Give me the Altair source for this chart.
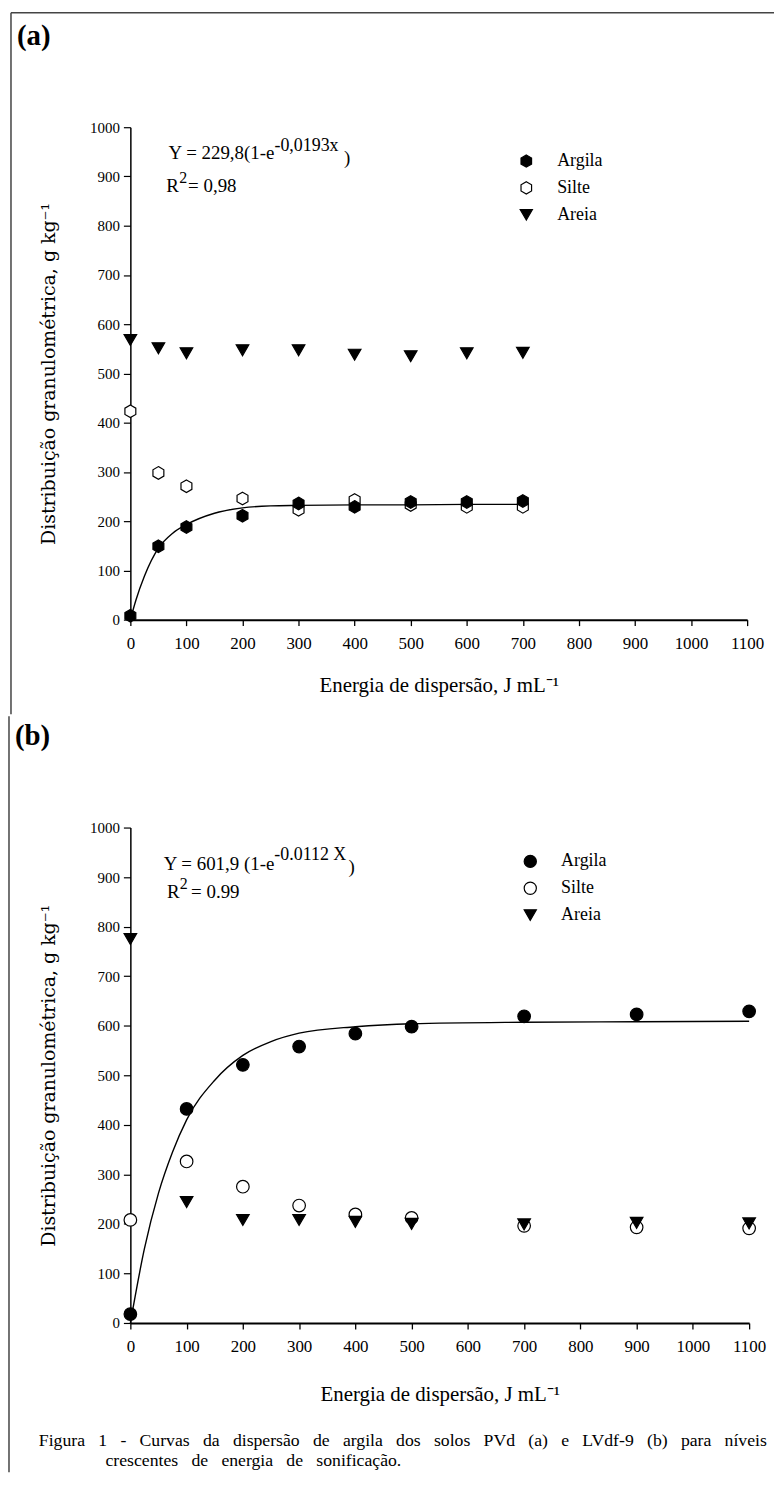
import altair as alt
import pandas as pd

SERIES = ["Argila", "Silte", "Areia"]

# ---- panel (a) ----
A_X = [0, 50, 100, 200, 300, 400, 500, 600, 700]
A_ARGILA = [8, 149, 188, 211, 236, 229, 239, 239, 241]
A_SILTE = [423, 298, 271, 246, 223, 243, 233, 229, 229]
A_AREIA = [568, 551, 541, 547, 547, 538, 535, 541, 542]
A_CURVE_X = [0, 10, 25, 50, 75, 100, 150, 200, 250, 300, 400, 500, 600, 700]
A_CURVE_Y = [0, 40, 88, 145, 175, 193, 216, 227, 231, 232, 233, 233, 234, 234]
A_EQ = ["Y = 229,8(1-e", "-0,0193x", ")"]
A_R2 = ["R", "2", "= 0,98"]

# ---- panel (b) ----
B_X = [0, 100, 200, 300, 400, 500, 700, 900, 1100]
B_ARGILA = [18, 432, 521, 558, 584, 598, 619, 623, 629]
B_SILTE = [208, 326, 275, 237, 219, 212, 196, 193, 191]
B_AREIA = [775, 244, 208, 208, 204, 200, 199, 202, 201]
B_CURVE_X = [0, 25, 50, 75, 100, 150, 200, 250, 300, 400, 500, 700, 900, 1100]
B_CURVE_Y = [0, 150, 262, 345, 410, 490, 540, 568, 585, 598, 604, 607, 608, 609]
B_EQ = ["Y = 601,9 (1-e", "-0.0112 X", ")"]
B_R2 = ["R", "2", "= 0.99"]

X_TICKS = list(range(0, 1101, 100))
Y_TICKS = list(range(0, 1001, 100))
Y_TITLE = "Distribuição granulométrica, g kg⁻¹"
X_TITLE_A = "Energia de dispersão, J mL⁻¹"
X_TITLE_B = "Energia de dispersão,  J mL⁻¹"
PANEL_LABELS = ["(a)", "(b)"]
CAPTION = [
    "Figura 1 - Curvas da dispersão de argila dos solos PVd (a) e LVdf-9 (b) para níveis",
    "crescentes de energia de sonificação.",
]

HEX = "M0,-1L0.866,-0.5L0.866,0.5L0,1L-0.866,0.5L-0.866,-0.5Z"
SERIF = "Liberation Serif"


def spaced(s):
    return s.replace(" ", " \u00a0\u00a0")


def panel(xs, argila, silte, areia, cx, cy, eq, r2, shapes, label, xtitle,
          width, height, left, top, bottom, title_y,
          eq_pos, r2_pos, legend_x, extra_layers):
    pts = pd.DataFrame(
        {"x": xs * 3,
         "y": silte + areia + argila,
         "serie": ["Silte"] * len(xs) + ["Areia"] * len(xs) + ["Argila"] * len(xs)}
    )
    curve = pd.DataFrame({"x": cx, "y": cy})

    xscale = alt.Scale(domain=[0, 1100], nice=False, zero=False)
    yscale = alt.Scale(domain=[0, 1000], nice=False)
    xaxis = alt.Axis(values=X_TICKS, title=xtitle, format="d", titleY=title_y)
    yaxis = alt.Axis(values=Y_TICKS, title=Y_TITLE, format="d", titleX=-82)
    X = alt.X("x:Q", scale=xscale, axis=xaxis)
    Y = alt.Y("y:Q", scale=yscale, axis=yaxis)

    line = alt.Chart(curve).mark_line(color="black", strokeWidth=1.4,
                                      interpolate="monotone").encode(x=X, y=Y)

    leg = alt.Legend(orient="none", legendX=legend_x, legendY=25, title=None,
                     labelFont=SERIF, labelFontSize=18, labelColor="black",
                     symbolSize=150, symbolStrokeColor="black", symbolStrokeWidth=1.2,
                     labelOffset=22, rowPadding=9)
    points = alt.Chart(pts).mark_point(filled=True, opacity=1, size=160,
                                       strokeWidth=1.2).encode(
        x=X, y=Y,
        shape=alt.Shape("serie:N", scale=alt.Scale(domain=SERIES, range=shapes), legend=leg),
        fill=alt.Fill("serie:N", scale=alt.Scale(domain=SERIES, range=["black", "white", "black"]),
                      legend=leg),
        stroke=alt.Stroke("serie:N", scale=alt.Scale(domain=SERIES, range=["black", "black", "black"]),
                          legend=leg),
    )

    layers = [line, points]

    def txt(s, xv, yv, size, align="left"):
        return alt.Chart(pd.DataFrame({"t": [s]})).mark_text(
            font=SERIF, fontSize=size, align=align, baseline="middle", color="black"
        ).encode(x=alt.X(datum=xv, type="quantitative", scale=xscale, axis=xaxis),
                 y=alt.Y(datum=yv, type="quantitative", scale=yscale, axis=yaxis),
                 text="t:N")

    (ex0, ey0), (ex1, ey1), (ex2, ey2) = eq_pos
    layers += [txt(eq[0], ex1, ey0, 19, "right"), txt(eq[1], ex1, ey1, 18),
               txt(eq[2], ex2, ey2, 19)]
    (rx0, ry0), (rx1, ry1), (rx2, ry2) = r2_pos
    layers += [txt(r2[0], rx0, ry0, 19), txt(r2[1], rx1, ry1, 16), txt(r2[2], rx2, ry2, 19)]

    # panel label
    lab = alt.Chart(pd.DataFrame({"t": [label]})).mark_text(
        font=SERIF, fontSize=29, fontWeight="bold", align="left", baseline="middle",
        color="black").encode(x=alt.value(-left + 6), y=alt.value(-92), text="t:N")
    layers.append(lab)

    # frame (left edge of figure box)
    layers.append(alt.Chart(pd.DataFrame({"t": [0]})).mark_rule(
        color="#444", strokeWidth=1.5).encode(
        x=alt.value(-left), x2=alt.value(-left), y=alt.value(-top), y2=alt.value(bottom)))
    layers += extra_layers

    return alt.layer(*layers).properties(width=width, height=height).resolve_scale(
        shape="independent", fill="independent", stroke="independent")


# top edge of figure box
top_rule = alt.Chart(pd.DataFrame({"t": [0]})).mark_rule(
    color="#444", strokeWidth=1.5).encode(
    x=alt.value(-120), x2=alt.value(647), y=alt.value(-115), y2=alt.value(-115))

cap_layers = []
for line_txt, xo, yo in zip(CAPTION, [-92, -25], [617, 637]):
    cap_layers.append(alt.Chart(pd.DataFrame({"t": [spaced(line_txt)]})).mark_text(
        font=SERIF, fontSize=17.8, align="left", baseline="middle", color="black"
    ).encode(x=alt.value(xo), y=alt.value(yo), text="t:N"))

pa = panel(A_X, A_ARGILA, A_SILTE, A_AREIA, A_CURVE_X, A_CURVE_Y, A_EQ, A_R2,
           [HEX, HEX, "triangle-down"], PANEL_LABELS[0], X_TITLE_A,
           620, 495, 120, 115, 590, 66,
           [(64, 947), (257, 962), (381, 938)], [(64, 880), (87, 896), (103, 880)],
           389, [top_rule])

pb = panel(B_X, B_ARGILA, B_SILTE, B_AREIA, B_CURVE_X, B_CURVE_Y, B_EQ, B_R2,
           ["circle", "circle", "triangle-down"], PANEL_LABELS[1], X_TITLE_B,
           622, 498, 122, 112, 648, 72,
           [(65, 926), (256, 944), (388, 920)], [(65, 869), (88, 886), (108, 869)],
           393, cap_layers)

chart = alt.vconcat(pa, pb, spacing=0).properties(
    padding={"left": 0, "top": 0, "right": 0, "bottom": 0}
).resolve_scale(
    shape="independent", fill="independent", stroke="independent"
).resolve_legend(
    shape="independent", fill="independent", stroke="independent"
).configure(padding={"left": 0, "top": 0, "right": 0, "bottom": 0}).configure_view(
    stroke=None
).configure_axis(
    labelFont=SERIF, titleFont=SERIF, titleFontWeight="normal", grid=False,
    domainColor="black", tickColor="black", labelColor="black", titleColor="black",
    labelOverlap=False,
).configure_axisX(
    labelFontSize=17, labelPadding=10, labelFlush=False, titleFontSize=21,
    titleBaseline="middle", tickSize=6, domainWidth=2, tickWidth=1.3,
).configure_axisY(
    labelFontSize=15, labelPadding=4, titleFont="DejaVu Serif", titleFontSize=19,
    titleBaseline="middle", tickSize=7, domainWidth=1.5, tickWidth=1.2,
)

chart.save("out.html", embed_options={"renderer": "svg", "actions": False})
